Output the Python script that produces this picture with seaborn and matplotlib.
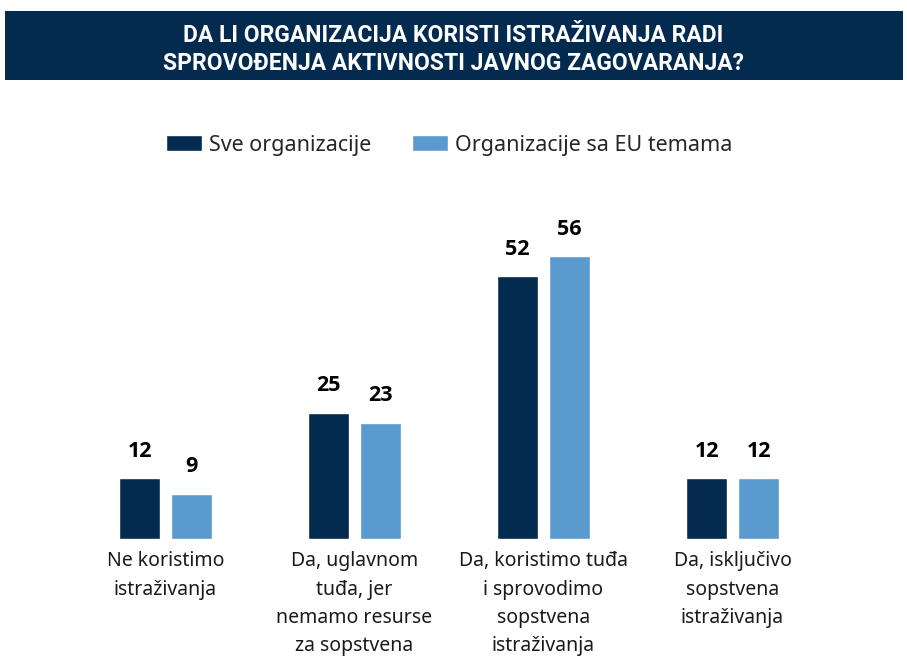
import pandas as pd
import matplotlib.pyplot as plt
import seaborn as sns
from matplotlib import font_manager
from matplotlib.patches import Rectangle

# Data
categories = [
    "Ne koristimo\nistraživanja",
    "Da, uglavnom\ntuđa, jer\nnemamo resurse\nza sopstvena\nistraživanja",
    "Da, koristimo tuđa\ni sprovodimo\nsopstvena\nistraživanja",
    "Da, isključivo\nsopstvena\nistraživanja",
]
series_names = ["Sve organizacije", "Organizacije sa EU temama"]
sve = [12, 25, 52, 12]
eu = [9, 23, 56, 12]

title = "DA LI ORGANIZACIJA KORISTI ISTRAŽIVANJA RADI\nSPROVOĐENJA AKTIVNOSTI JAVNOG ZAGOVARANJA?"

dark = "#032A4F"
light = "#5B9ACE"


def bold_family(candidates):
    # first family that really has a bold face installed
    for name in candidates:
        try:
            path = font_manager.findfont(
                font_manager.FontProperties(family=name, weight="bold"),
                fallback_to_default=False,
            )
        except Exception:
            continue
        if "bold" in path.lower():
            return name
    return "DejaVu Sans"


bold_font = bold_family(["Noto Sans", "Open Sans", "Lato", "Roboto", "Liberation Sans"])
title_font = bold_family(["Liberation Sans Narrow", "Roboto", "Lato", "Open Sans", "Liberation Sans"])

df = pd.DataFrame({
    "Kategorija": categories * 2,
    "Grupa": [series_names[0]] * 4 + [series_names[1]] * 4,
    "Vrednost": sve + eu,
})

sns.set_style("white")
plt.rcParams["font.family"] = ["Noto Sans", "DejaVu Sans"]

fig = plt.figure(figsize=(9.07, 6.58), dpi=100)
ax = fig.add_axes([0, 0.1809, 1, 0.53])

sns.barplot(
    data=df,
    x="Kategorija",
    y="Vrednost",
    hue="Grupa",
    order=categories,
    hue_order=series_names,
    palette=[dark, light],
    width=0.55,
    gap=0.21,
    saturation=1,
    ax=ax,
)

for container in ax.containers:
    ax.bar_label(
        container,
        padding=12,
        fontsize=15.5,
        fontweight="bold",
        family=bold_font,
        color="black",
    )

ax.set_xlim(-0.876, 3.923)
ax.set_ylim(0, 0.53 * 658 / 5.05)
ax.set_xlabel("")
ax.set_ylabel("")
ax.set_yticks([])
ax.tick_params(axis="x", length=0, pad=9, labelsize=14, colors="#1a1a1a")
for lbl in ax.get_xticklabels():
    lbl.set_linespacing(1.55)
sns.despine(ax=ax, left=True, bottom=True)

handles, labels = ax.get_legend_handles_labels()
ax.legend(
    handles,
    labels,
    loc="center",
    bbox_to_anchor=(449 / 907, 1 - 145 / 658),
    bbox_transform=fig.transFigure,
    ncol=2,
    frameon=False,
    fontsize=15.5,
    handlelength=1.7,
    handleheight=0.7,
    handletextpad=0.3,
    columnspacing=1.9,
)

# Title banner
fig.patches.append(Rectangle(
    (5 / 907, 1 - 80 / 658),
    898 / 907,
    69 / 658,
    transform=fig.transFigure,
    facecolor=dark,
    edgecolor="none",
    zorder=0,
))
fig.text(
    0.5,
    1 - 49.5 / 658,
    title,
    ha="center",
    va="center",
    color="white",
    fontsize=16.5,
    fontweight="bold",
    family=title_font,
    linespacing=1.3,
)

fig.savefig("out.png", dpi=100)
